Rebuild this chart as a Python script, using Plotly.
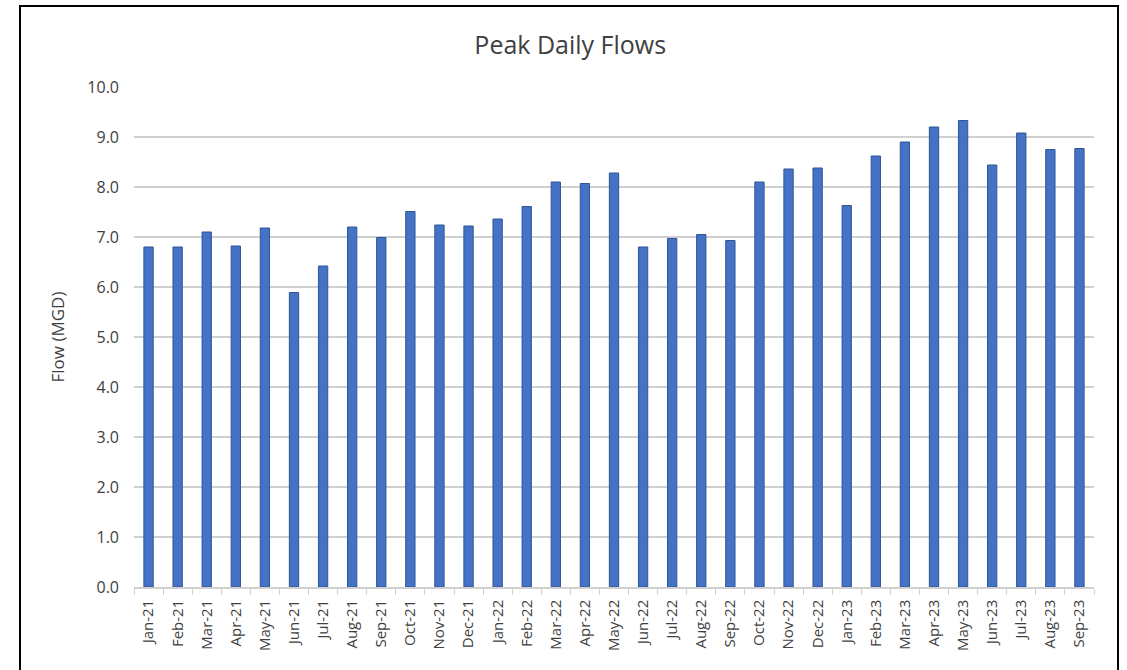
import plotly.graph_objects as go

months = ["Jan-21","Feb-21","Mar-21","Apr-21","May-21","Jun-21","Jul-21","Aug-21","Sep-21","Oct-21","Nov-21","Dec-21",
          "Jan-22","Feb-22","Mar-22","Apr-22","May-22","Jun-22","Jul-22","Aug-22","Sep-22","Oct-22","Nov-22","Dec-22",
          "Jan-23","Feb-23","Mar-23","Apr-23","May-23","Jun-23","Jul-23","Aug-23","Sep-23"]
flows = [6.80, 6.80, 7.10, 6.82, 7.18, 5.89, 6.42, 7.20, 6.99, 7.51, 7.24, 7.22,
         7.36, 7.61, 8.10, 8.07, 8.28, 6.80, 6.97, 7.05, 6.93, 8.10, 8.36, 8.38,
         7.63, 8.62, 8.90, 9.20, 9.33, 8.44, 9.08, 8.75, 8.77]
y_ticks = [0, 1, 2, 3, 4, 5, 6, 7, 8, 9, 10]

FONT = "Open Sans, Noto Sans, DejaVu Sans, sans-serif"

fig = go.Figure(go.Bar(
    x=months, y=flows,
    marker=dict(color="#4472C4", line=dict(color="#2F5597", width=1)),
))

fig.update_layout(
    width=1127, height=670,
    margin=dict(l=134, r=33, t=87, b=83),
    paper_bgcolor="white", plot_bgcolor="white",
    bargap=0.68,
    showlegend=False,
    font=dict(family=FONT, color="#404040", size=15),
    title=dict(text="Peak Daily Flows", x=0.506, xanchor="center", y=0.933, yanchor="middle",
               font=dict(family=FONT, size=25, color="#404040")),
    xaxis=dict(type="category", tickangle=-90, tickson="boundaries", ticks="outside",
               ticklen=6, tickcolor="#D0D0D0", showline=True, linecolor="#D0D0D0", linewidth=1.5,
               showgrid=False, ticklabelstandoff=5, tickfont=dict(size=15, color="#404040")),
    yaxis=dict(range=[0, 10], tickvals=y_ticks, ticktext=[f"{v:.1f}" for v in y_ticks],
               showgrid=True, gridcolor="#D0D0D0", gridwidth=1.5, zeroline=False,
               tickfont=dict(size=16, color="#404040"), ticks="", ticklabelstandoff=14,
               title=dict(text="Flow (MGD)", font=dict(size=17, color="#404040"), standoff=18)),
    shapes=[dict(type="rect", xref="paper", yref="paper", x0=-0.11875, x1=1.025, y0=-0.2, y1=1.162,
                 line=dict(color="black", width=2), fillcolor="rgba(0,0,0,0)", layer="above")],
)

fig.write_html("out.html", config={"displayModeBar": False},
               post_script="document.body.style.margin='0';document.body.style.overflow='hidden';")
